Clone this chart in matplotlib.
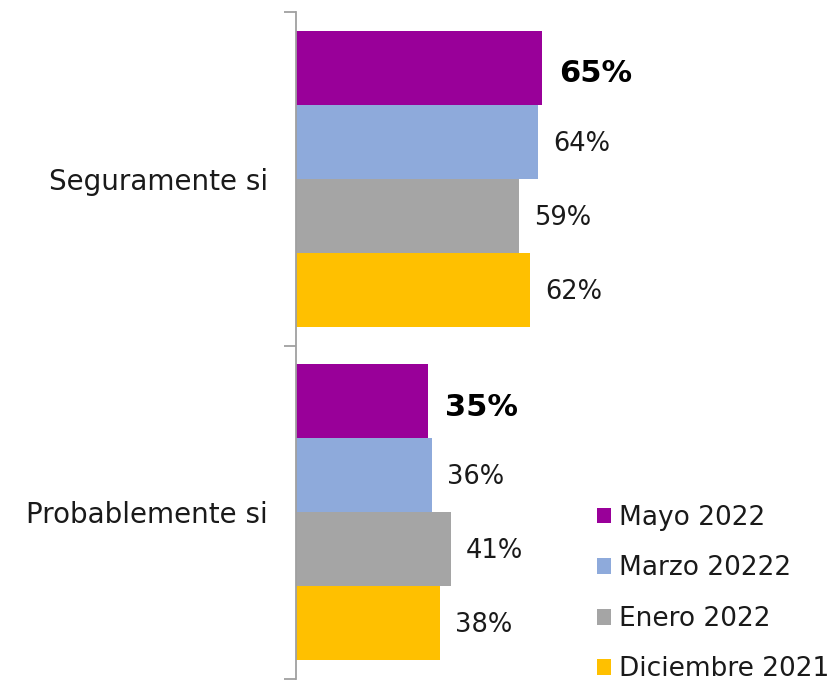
import matplotlib
matplotlib.use("Agg")
import matplotlib.pyplot as plt
import numpy as np

categories = ["Seguramente si", "Probablemente si"]
series = ["Mayo 2022", "Marzo 20222", "Enero 2022", "Diciembre 2021"]
mayo_2022 = [65, 35]
marzo_2022 = [64, 36]
enero_2022 = [59, 41]
diciembre_2021 = [62, 38]
values = [mayo_2022, marzo_2022, enero_2022, diciembre_2021]
colors = ["#990099", "#8EAADB", "#A5A5A5", "#FFC000"]
bold_series = [True, False, False, False]

plt.rcParams['font.family'] = ['DejaVu Sans']

W, H = 836, 685
fig = plt.figure(figsize=(W / 100, H / 100), dpi=100)
ax = fig.add_axes([296 / W, 6 / H, 378 / W, 667 / H])

bar_h = 0.222
ncat = len(categories)
centers = np.arange(ncat) + 0.5
for i, (name, vals, col) in enumerate(zip(series, values, colors)):
    ypos = centers + (i - 1.5) * bar_h
    ax.barh(ypos, vals, height=bar_h, color=col, label=name, edgecolor='none')
    for y, v in zip(ypos, vals):
        if bold_series[i]:
            ax.annotate(f"{v}%", (v, y), xytext=(17, -6), textcoords='offset pixels',
                        ha='left', va='center', fontsize=22, fontweight='bold', color='black')
        else:
            ax.annotate(f"{v}%", (v, y), xytext=(15, -2), textcoords='offset pixels',
                        ha='left', va='center', fontsize=18.5, color='#1a1a1a')

ax.set_xlim(0, 100)
ax.set_ylim(ncat, 0)
ax.set_yticks(np.arange(ncat + 1))
ax.set_yticklabels([])
ax.set_yticks(centers, minor=True)
ax.set_yticklabels(categories, minor=True, fontsize=20, color='#1a1a1a')
ax.tick_params(axis='y', which='minor', length=0, pad=20)
ax.tick_params(axis='y', which='major', length=9, color='#A0A0A0', width=1.3)
ax.set_xticks([])
for s in ['top', 'right', 'bottom']:
    ax.spines[s].set_visible(False)
ax.spines['left'].set_color('#A0A0A0')
ax.spines['left'].set_linewidth(1.3)

leg = fig.legend(loc='lower left', bbox_to_anchor=(586 / W, -8 / H), frameon=False,
                 fontsize=19, handlelength=0.55, handleheight=0.55, handletextpad=0.3,
                 labelspacing=0.93, borderaxespad=0)
for t in leg.get_texts():
    t.set_color('#1a1a1a')

fig.savefig("out.png", dpi=100)
